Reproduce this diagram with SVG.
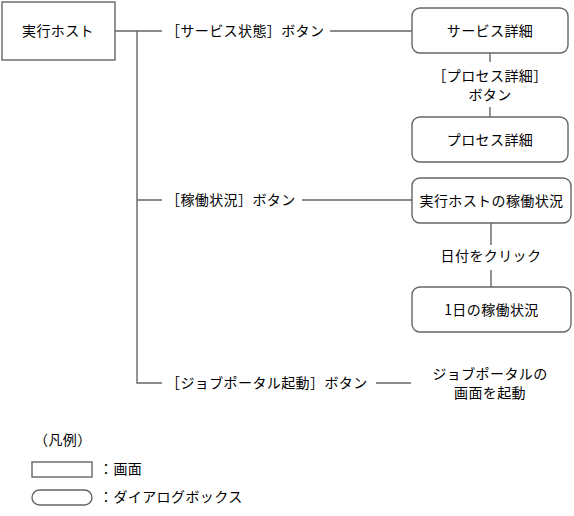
<svg xmlns="http://www.w3.org/2000/svg" width="574" height="516" viewBox="0 0 574 516">
<style>
text{font-family:"Noto Sans CJK JP","Noto Sans",sans-serif;font-size:14px;fill:#000;letter-spacing:0.4px}
.c{text-anchor:middle}
.box{fill:#fff;stroke:#666;stroke-width:1.4}
.ln{fill:none;stroke:#666;stroke-width:1.4}
</style>
<rect width="574" height="516" fill="#fff"/>
<g id="connectors">
<path class="ln" d="M115,31H162M137,31V383H162M137,200H162M330,31H412M302,200H412M376,383H411"/>
<path class="ln" d="M490,53V62M490,107V117M491,223V245M491,270V287"/>
</g>
<g id="host"><rect class="box" x="2" y="2" width="113" height="58"/><text class="c" x="58" y="36">実行ホスト</text></g>
<g id="lbl-service"><text x="166" y="36">［サービス状態］ボタン</text></g>
<g id="lbl-kado"><text x="166" y="205">［稼働状況］ボタン</text></g>
<g id="lbl-jp"><text x="166" y="388">［ジョブポータル起動］ボタン</text></g>
<g id="service"><rect class="box" x="412" y="8" width="156" height="45" rx="8"/><text class="c" x="490" y="36">サービス詳細</text></g>
<g id="lbl-process"><text class="c" x="490" y="81">［プロセス詳細］</text><text class="c" x="490" y="100">ボタン</text></g>
<g id="process"><rect class="box" x="412" y="117" width="156" height="45" rx="8"/><text class="c" x="490" y="145">プロセス詳細</text></g>
<g id="hoststatus"><rect class="box" x="412" y="178" width="159" height="45" rx="8"/><text class="c" x="491.5" y="206">実行ホストの稼働状況</text></g>
<g id="lbl-date"><text class="c" x="491" y="261">日付をクリック</text></g>
<g id="daystatus"><rect class="box" x="412" y="287" width="159" height="45" rx="8"/><text class="c" x="491.5" y="315">1日の稼働状況</text></g>
<g id="jpstart"><text class="c" x="490" y="379">ジョブポータルの</text><text class="c" x="490" y="398">画面を起動</text></g>
<g id="legend">
<text x="34" y="445">（凡例）</text>
<rect class="box" x="32" y="462" width="60" height="15"/>
<text x="99" y="474">：画面</text>
<rect class="box" x="32" y="490" width="60" height="15" rx="7.5"/>
<text x="99" y="502">：ダイアログボックス</text>
</g>
</svg>
